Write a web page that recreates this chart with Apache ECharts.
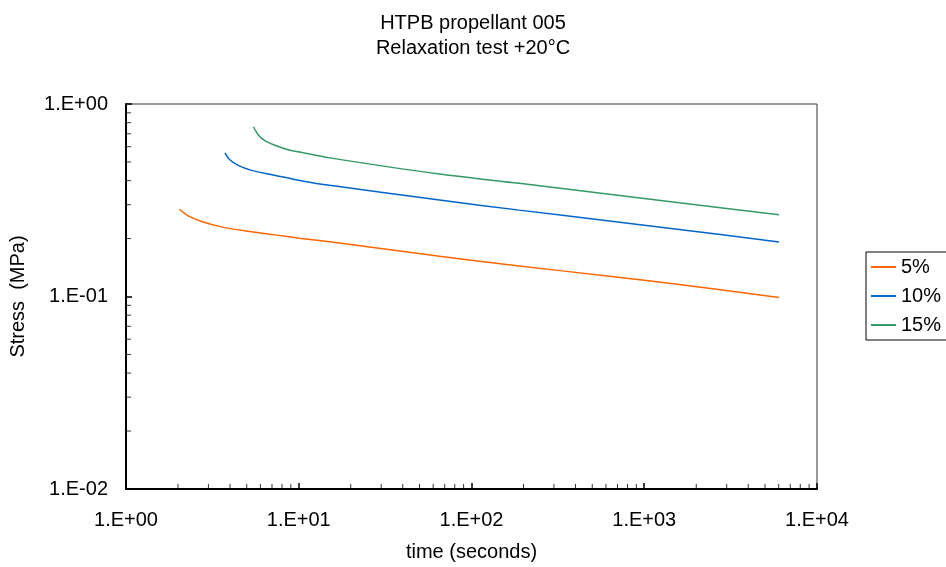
<!DOCTYPE html>
<html>
<head>
<meta charset="utf-8">
<script src="https://cdn.jsdelivr.net/npm/echarts@6/dist/echarts.min.js"></script>
<style>html,body{margin:0;padding:0;background:#fff}#c{width:946px;height:567px}</style>
</head>
<body>
<div id="c"></div>
<script>
const titleLines = ['HTPB propellant 005', 'Relaxation test +20°C'];
const seriesNames = ['5%', '10%', '15%'];
const t5 = [2.04, 2.29, 2.74, 3.57, 5.09, 7.27, 10.1, 15.1, 65.3, 189, 628, 1593, 6030];
const s5 = [0.284, 0.2625, 0.2455, 0.230, 0.218, 0.209, 0.201, 0.1925, 0.162, 0.144, 0.1275, 0.1154, 0.0988];
const t10 = [3.74, 3.99, 4.46, 5.33, 6.65, 8.30, 10.1, 15.1, 65.3, 189, 628, 1593, 6030];
const s10 = [0.558, 0.513, 0.480, 0.452, 0.4325, 0.416, 0.401, 0.378, 0.317, 0.281, 0.247, 0.223, 0.192];
const t15 = [5.47, 5.82, 6.36, 7.27, 8.67, 10.1, 15.1, 65.3, 189, 628, 1593, 6030];
const s15 = [0.762, 0.6925, 0.6445, 0.610, 0.5785, 0.563, 0.525, 0.4325, 0.387, 0.340, 0.307, 0.2657];
const xMinor = [2,3,4,5,6,7,8,9,20,30,40,50,60,70,80,90,200,300,400,500,600,700,800,900,2000,3000,4000,5000,6000,7000,8000,9000];
const yMinor = [0.02,0.03,0.04,0.05,0.06,0.07,0.08,0.09,0.2,0.3,0.4,0.5,0.6,0.7,0.8,0.9];

const FONT = 'Arial, "Liberation Sans", sans-serif';
const FS = 20;
const colors = ['#FF6600', '#0066CC', '#339966'];
const zip = (a, b) => a.map((v, i) => [v, b[i]]);
const fmt = v => {
  const e = Math.round(Math.log10(v));
  return '1.E' + (e < 0 ? '-' : '+') + String(Math.abs(e)).padStart(2, '0');
};

const chart = echarts.init(document.getElementById('c'), null, {renderer: 'canvas'});
const lineSeries = [[t5, s5], [t10, s10], [t15, s15]].map((d, i) => ({
  name: seriesNames[i],
  type: 'line',
  data: zip(d[0], d[1]),
  showSymbol: false,
  symbol: 'none',
  smooth: 0.3,
  lineStyle: {color: colors[i], width: 1.5},
  itemStyle: {color: colors[i]},
  z: 5
}));

const tickSeries = [
  {
    type: 'scatter', silent: true, data: xMinor.map(v => [v, 0.01]),
    symbol: 'rect', symbolSize: [1, 5], symbolOffset: [0, -2.5], clip: false,
    itemStyle: {color: '#000'}, z: 3
  },
  {
    type: 'scatter', silent: true, data: yMinor.map(v => [1, v]),
    symbol: 'rect', symbolSize: [5, 1], symbolOffset: [2.5, 0], clip: false,
    itemStyle: {color: '#000'}, z: 3
  }
];

chart.setOption({
  animation: false,
  backgroundColor: '#fff',
  color: colors,
  textStyle: {fontFamily: FONT},
  title: {
    text: titleLines.join('\n'),
    left: 'center',
    top: 6,
    textStyle: {fontFamily: FONT, fontSize: FS, fontWeight: 'normal', color: '#000', lineHeight: 25}
  },
  legend: {
    data: seriesNames,
    orient: 'vertical',
    left: 866,
    top: 252,
    itemWidth: 25,
    itemHeight: 2,
    icon: 'rect',
    itemGap: 9,
    padding: [5, 40, 5, 5],
    borderColor: '#000',
    borderWidth: 1,
    textStyle: {fontFamily: FONT, fontSize: FS, color: '#000'}
  },
  grid: {
    left: 126, right: 129, top: 104, bottom: 78,
    show: true, borderColor: '#333', borderWidth: 1, backgroundColor: '#fff'
  },
  xAxis: {
    type: 'log', logBase: 10, min: 1, max: 10000,
    name: 'time (seconds)', nameLocation: 'middle', nameGap: 53,
    nameTextStyle: {fontFamily: FONT, fontSize: FS, color: '#000'},
    axisLine: {show: true, lineStyle: {color: '#000', width: 2}},
    axisTick: {show: true, inside: true, length: 6, lineStyle: {color: '#000', width: 1.5}},
    minorTick: {show: false},
    splitLine: {show: false},
    axisLabel: {formatter: fmt, fontFamily: FONT, fontSize: FS, color: '#000', margin: 21}
  },
  yAxis: {
    type: 'log', logBase: 10, min: 0.01, max: 1,
    name: 'Stress  (MPa)', nameLocation: 'middle', nameGap: 98, nameRotate: 90,
    nameTextStyle: {fontFamily: FONT, fontSize: FS, color: '#000'},
    axisLine: {show: true, lineStyle: {color: '#000', width: 2}},
    axisTick: {show: true, inside: true, length: 6, lineStyle: {color: '#000', width: 1.5}},
    minorTick: {show: false},
    splitLine: {show: false},
    axisLabel: {formatter: fmt, fontFamily: FONT, fontSize: FS, color: '#000', margin: 18}
  },
  series: lineSeries.concat(tickSeries)
});
</script>
</body>
</html>
